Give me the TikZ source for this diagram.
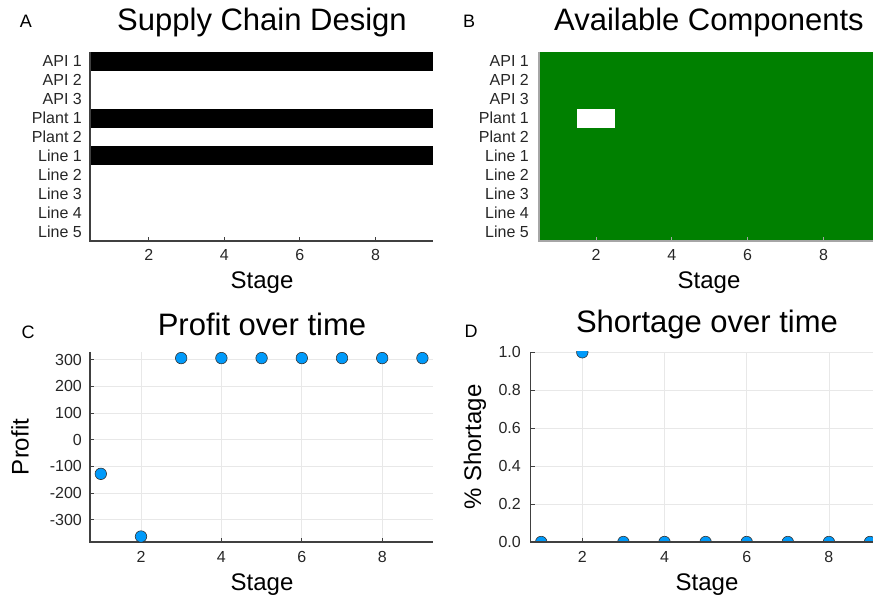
\documentclass[tikz,border=0pt]{standalone}
\usepackage{fontspec}
\setmainfont{Liberation Sans}
\usetikzlibrary{positioning}
\definecolor{plotblue}{RGB}{0,154,250}
\definecolor{availgreen}{RGB}{0,128,0}
\definecolor{axisgray}{RGB}{64,64,64}
\definecolor{gridgray}{RGB}{232,232,232}

\begin{document}
\begin{tikzpicture}[x=1pt, y=-1pt,
  title/.style={font=\fontsize{31}{33}\selectfont},
  panel/.style={font=\fontsize{18}{19}\selectfont},
  ticklabel/.style={font=\fontsize{16}{17}\selectfont, text=black!85, inner sep=0pt},
  axlabel/.style={font=\fontsize{24}{25}\selectfont},
  axisline/.style={draw=axisgray, line width=1.3pt},
  gridline/.style={draw=gridgray, line width=0.8pt},
  tickmark/.style={draw=axisgray, line width=1pt},
  dot/.style={circle, fill=plotblue, draw=black!80, line width=0.6pt,
              minimum size=11.5pt, inner sep=0pt}
]
\useasboundingbox (0,0) rectangle (873,601);

% A: supply chain design
\node[panel] (lblA) at (26,21) {A};
\node[title] (titA) at (262,22) {Supply Chain Design};
\foreach \r in {0,3,5}
  \fill[black] (90,{52+\r*18.9}) rectangle (433,{52+(\r+1)*18.9});
\draw[axisline] (90,52) -- (90,241) -- (433,241);
\foreach \s in {2,4,6,8} {
  \draw[tickmark] ({92+(\s-0.5)*37.8},241) -- ++(0,-4);
  \node[ticklabel] (xa-\s) at ({92+(\s-0.5)*37.8},255) {\s};
}
\foreach \lab [count=\r from 0] in {API 1,API 2,API 3,Plant 1,Plant 2,Line 1,Line 2,Line 3,Line 4,Line 5}
  \node[ticklabel, anchor=east] (ya-\r) at (82,{52+(\r+0.5)*18.9}) {\lab};
\node[axlabel] (stA) at (262,283) {Stage};

% B: available components
\node[panel] (lblB) at (469,21) {B};
\node[title] (titB) at (709,22) {Available Components};
\fill[availgreen] (539,52) rectangle (873,241);
\fill[white] (577.2,108.7) rectangle (615.1,127.6);
\draw[axisline, draw=gray!70] (539,52) -- (539,241) -- (873,241);
\foreach \s in {2,4,6,8} {
  \draw[tickmark, draw=gray!70] ({539.2+(\s-0.5)*37.9},241) -- ++(0,-4);
  \node[ticklabel] (xb-\s) at ({539.2+(\s-0.5)*37.9},255) {\s};
}
\foreach \lab [count=\r from 0] in {API 1,API 2,API 3,Plant 1,Plant 2,Line 1,Line 2,Line 3,Line 4,Line 5}
  \node[ticklabel, anchor=east] (yb-\r) at (529,{52+(\r+0.5)*18.9}) {\lab};
\node[axlabel] (stB) at (709,283) {Stage};

% C: profit over time
\node[panel] (lblC) at (28,332) {C};
\node[title] (titC) at (262,324) {Profit over time};
\foreach \v in {-300,-200,...,300} {
  \draw[gridline] (90,{439.7-\v*0.2667}) -- (433,{439.7-\v*0.2667});
  \draw[tickmark] (90,{439.7-\v*0.2667}) -- ++(4,0);
  \node[ticklabel, anchor=east] (yc-\v) at (82,{439.7-\v*0.2667}) {\v};
}
\foreach \s in {2,4,6,8} {
  \draw[gridline] ({100.8+(\s-1)*40.2},352) -- ({100.8+(\s-1)*40.2},542);
  \draw[tickmark] ({100.8+(\s-1)*40.2},542) -- ++(0,-4);
  \node[ticklabel] (xc-\s) at ({100.8+(\s-1)*40.2},557) {\s};
}
\draw[axisline] (90,352) -- (90,542) -- (433,542);
\foreach \s/\v in {1/-128,2/-363,3/306,4/306,5/306,6/306,7/306,8/306,9/306}
  \node[dot] (pc-\s) at ({100.8+(\s-1)*40.2},{439.7-\v*0.2667}) {};
\node[axlabel] (stC) at (262,585) {Stage};
\node[axlabel, rotate=90] (ylC) at (20,447) {Profit};

% D: shortage over time
\node[panel] (lblD) at (471,331) {D};
\node[title] (titD) at (707,324) {Shortage over time};
\foreach \v in {0.0,0.2,0.4,0.6,0.8,1.0} {
  \draw[gridline] (530.7,{542-\v*189.7}) -- (873,{542-\v*189.7});
  \draw[tickmark] (530.7,{542-\v*189.7}) -- ++(4,0);
  \node[ticklabel, anchor=east] (yd-\v) at (521,{542-\v*189.7}) {\v};
}
\foreach \s in {2,4,6,8} {
  \draw[gridline] ({541.2+(\s-1)*41.1},352) -- ({541.2+(\s-1)*41.1},542);
  \draw[tickmark] ({541.2+(\s-1)*41.1},542) -- ++(0,-4);
  \node[ticklabel] (xd-\s) at ({541.2+(\s-1)*41.1},557) {\s};
}
\begin{scope}
  \clip (530.7,352) rectangle (873,542);
  \foreach \s/\v in {1/0,2/1,3/0,4/0,5/0,6/0,7/0,8/0,9/0}
    \node[dot] (pd-\s) at ({541.2+(\s-1)*41.1},{542-\v*189.7}) {};
\end{scope}
\draw[axisline] (530.7,352) -- (530.7,542) -- (873,542);
\node[axlabel] (stD) at (707,585) {Stage};
\node[axlabel, rotate=90] (ylD) at (475,447) {\% Shortage};

\end{tikzpicture}
\end{document}
